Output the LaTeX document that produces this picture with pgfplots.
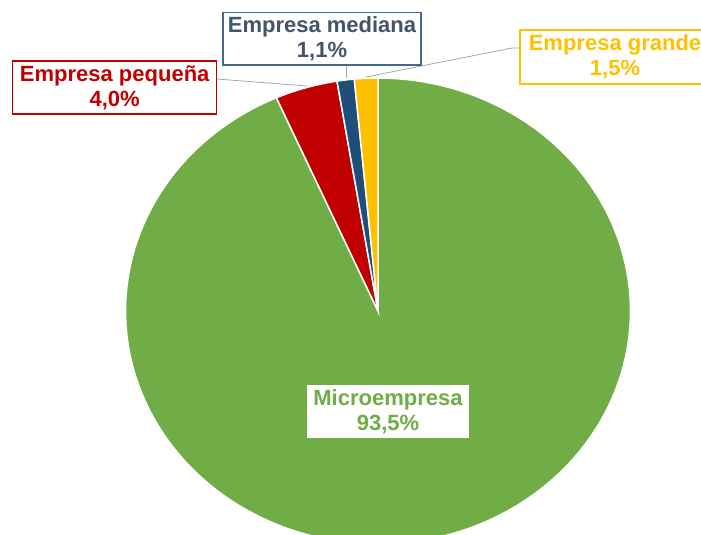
\documentclass[border=0pt]{standalone}
\usepackage{pgfplots}
\pgfplotsset{compat=1.18}
\usepackage{pgfplotstable}
\usepackage{fontspec}
\setmainfont{Liberation Sans}

\definecolor{verde}{HTML}{70AD47}
\definecolor{rojo}{HTML}{C00000}
\definecolor{azul}{HTML}{1F4E79}
\definecolor{azultxt}{HTML}{44546A}
\definecolor{amarillo}{HTML}{FFC000}
\definecolor{guia}{HTML}{A6A6A6}

\tikzset{etiq/.style={font=\fontsize{22}{25}\selectfont\bfseries, align=center, inner sep=0pt, fill=white}}

% participacion por tamano de empresa (%)
\pgfplotstableread{
tamano valor
Micro 93.5
Pequena 4.0
Mediana 1.1
Grande 1.5
}\datos

\newcommand\pct[1]{\pgfmathprintnumber[fixed,fixed zerofill,precision=1,use comma,assume math mode=true]{#1}\%}

\begin{document}
\begin{tikzpicture}
\pgfplotstablegetelem{0}{valor}\of\datos \let\vA\pgfplotsretval
\pgfplotstablegetelem{1}{valor}\of\datos \let\vB\pgfplotsretval
\pgfplotstablegetelem{2}{valor}\of\datos \let\vC\pgfplotsretval
\pgfplotstablegetelem{3}{valor}\of\datos \let\vD\pgfplotsretval
\pgfmathsetmacro\tot{\vA+\vB+\vC+\vD}
% angulos acumulados, en sentido horario desde las 12
\pgfmathsetmacro\aA{90-\vA/\tot*360}
\pgfmathsetmacro\aB{\aA-\vB/\tot*360}
\pgfmathsetmacro\aC{\aB-\vC/\tot*360}
\pgfmathsetmacro\aD{\aC-\vD/\tot*360}
\def\cx{378}\def\cy{311}\def\rx{252.5}\def\ry{233}

\begin{scope}
\clip (0,0) rectangle (701pt,535pt);
\begin{axis}[
    at={(0,0)}, anchor=south west,
    width=701pt, height=535pt, scale only axis,
    xmin=0, xmax=701, ymin=0, ymax=535,
    enlargelimits=false,
    y dir=reverse,
    hide axis,
    no markers,
]
\addplot[fill=verde, draw=white, line width=1.5pt, domain=\aA:90, samples=160, variable=\t]
    ({\cx+\rx*cos(\t)}, {\cy-\ry*sin(\t)}) -- (\cx,\cy) -- cycle;
\addplot[fill=rojo, draw=white, line width=1.5pt, domain=\aB:\aA, samples=12, variable=\t]
    ({\cx+\rx*cos(\t)}, {\cy-\ry*sin(\t)}) -- (\cx,\cy) -- cycle;
\addplot[fill=azul, draw=white, line width=1.5pt, domain=\aC:\aB, samples=6, variable=\t]
    ({\cx+\rx*cos(\t)}, {\cy-\ry*sin(\t)}) -- (\cx,\cy) -- cycle;
\addplot[fill=amarillo, draw=white, line width=1.5pt, domain=\aD:\aC, samples=6, variable=\t]
    ({\cx+\rx*cos(\t)}, {\cy-\ry*sin(\t)}) -- (\cx,\cy) -- cycle;

% lineas guia
\draw[guia, line width=0.8pt] (217,79) -- (307,86);
\draw[guia, line width=0.8pt] (346,65) -- (346,78);
\draw[guia, line width=0.8pt] (366,77) -- (512,48) -- (520,48);

% etiquetas
\node[etiq, text=verde, minimum width=162pt, minimum height=53pt] at (388,411.5)
    {Microempresa\\\pct{\vA}};
\node[etiq, draw=rojo, line width=1.5pt, text=rojo, minimum width=204pt, minimum height=53pt] at (114.7,87.3)
    {Empresa pequeña\\\pct{\vB}};
\node[etiq, draw=azul!85!white, line width=1.5pt, text=azultxt, minimum width=198pt, minimum height=52.5pt] at (322,38.7)
    {Empresa mediana\\\pct{\vC}};
\node[etiq, draw=amarillo, line width=1.5pt, text=amarillo, minimum width=190pt, minimum height=54pt] at (615,57)
    {Empresa grande\\\pct{\vD}};
\end{axis}
\end{scope}
\pgfresetboundingbox
\useasboundingbox (0,0) rectangle (701pt,535pt);
\end{tikzpicture}
\end{document}
